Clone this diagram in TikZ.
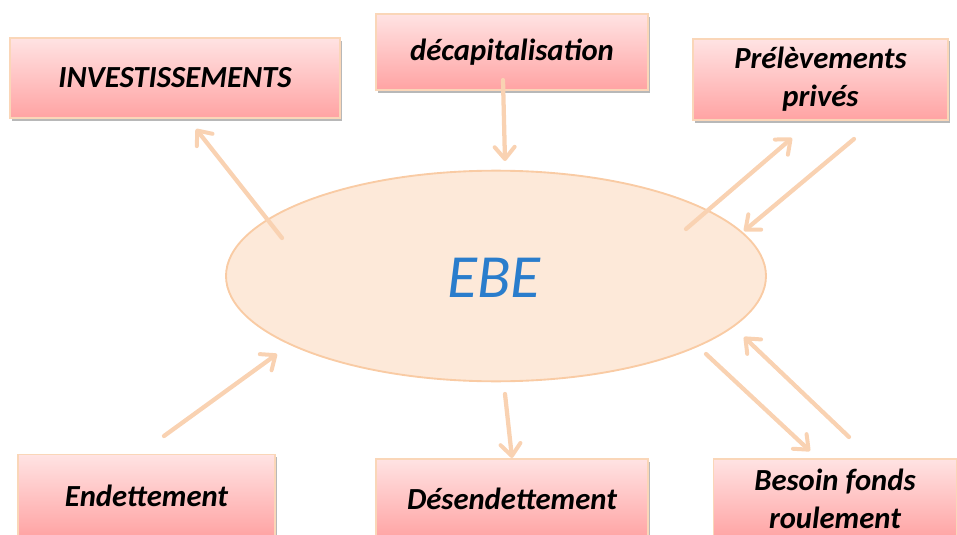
\documentclass[tikz,border=0pt]{standalone}
\usepackage{fontspec}
\setmainfont{Carlito}
\usetikzlibrary{arrows.meta,shadows,shapes.geometric}
\definecolor{boxtop}{HTML}{FFE3E3}
\definecolor{boxbot}{HTML}{FFA3A3}
\definecolor{boxline}{HTML}{FAD6B8}
\definecolor{ellfill}{HTML}{FDE9D9}
\definecolor{ellline}{HTML}{F9CBA4}
\definecolor{arrcol}{HTML}{F9D2B2}
\definecolor{ebeblue}{HTML}{2A7DCC}
\tikzset{
  flowbox/.style={draw=boxline, line width=1.2pt, top color=boxtop, bottom color=boxbot,
    drop shadow={shadow xshift=1.5pt, shadow yshift=-2pt, fill=black!35, opacity=0.8},
    font=\fontsize{23}{28.5}\selectfont\bfseries\itshape, align=center, inner sep=0pt},
  flowarrow/.style={draw=arrcol, line width=3.2pt, line cap=round,
    -{Straight Barb[length=9pt,width=15pt,line width=3pt, round]}}
}
\begin{document}
\begin{tikzpicture}[x=0.75pt,y=-0.75pt]
\useasboundingbox (0,0) rectangle (957,535);
% central ellipse
\node (ebe) [draw=ellline, line width=1.4pt, fill=ellfill, ellipse, minimum width=405pt, minimum height=158pt, inner sep=0pt]
  at (496,276) {};
\node (ebetext) at (494,278) {\fontsize{46}{50}\selectfont\itshape\color{ebeblue}EBE};
% boxes
\node (inv) [flowbox, minimum width=247.5pt, minimum height=60pt] at (175,78) {INVESTISSEMENTS};
\node (dec) [flowbox, minimum width=204pt, minimum height=57pt] at (512,52) {décapitalisation};
\node (pre) [flowbox, minimum width=191pt, minimum height=61pt] at (820.5,79.5) {Prélèvements\\privés};
\node (bfr) [flowbox, minimum width=182pt, minimum height=60pt] at (835,499) {Besoin fonds\\roulement};
\node (end) [flowbox, minimum width=193pt, minimum height=62pt] at (146.5,496) {Endettement};
\node (des) [flowbox, minimum width=204pt, minimum height=60pt] at (512,499) {Désendettement};
% arrow end points
\coordinate (invA) at (282,238);
\coordinate (invB) at (196,129);
\coordinate (decA) at (503,80);
\coordinate (decB) at (505,161);
\coordinate (preA) at (686,229);
\coordinate (preB) at (792,138);
\coordinate (preC) at (854,139);
\coordinate (preD) at (744,231);
\coordinate (bfrA) at (706,354);
\coordinate (bfrB) at (810,451);
\coordinate (bfrC) at (849,437);
\coordinate (bfrD) at (744,337);
\coordinate (endA) at (164,436);
\coordinate (endB) at (277,354);
\coordinate (desA) at (505,394);
\coordinate (desB) at (512,458);
% arrows
\draw[flowarrow] (invA) -- (invB);
\draw[flowarrow] (decA) -- (decB);
\draw[flowarrow] (preA) -- (preB);
\draw[flowarrow] (preC) -- (preD);
\draw[flowarrow] (bfrA) -- (bfrB);
\draw[flowarrow] (bfrC) -- (bfrD);
\draw[flowarrow] (endA) -- (endB);
\draw[flowarrow] (desA) -- (desB);
\end{tikzpicture}
\end{document}
